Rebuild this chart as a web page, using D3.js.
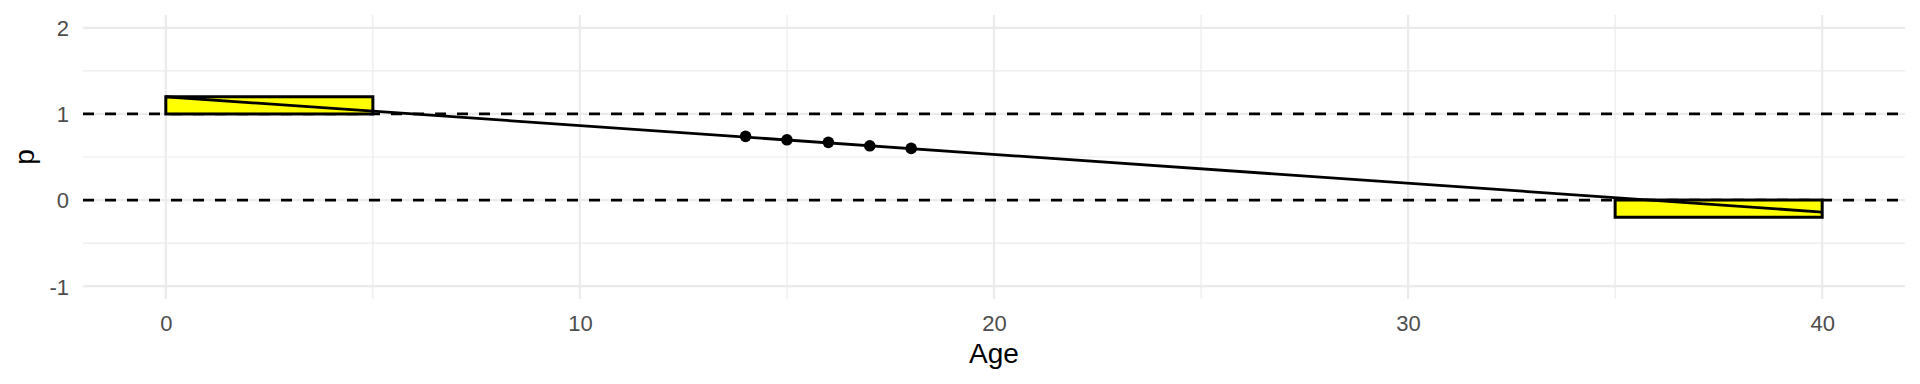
<!DOCTYPE html>
<html>
<head>
<meta charset="utf-8">
<script src="https://cdn.jsdelivr.net/npm/d3@7"></script>
<style>
html,body{margin:0;padding:0;background:#fff;}
svg{display:block;font-family:"Liberation Sans",Arial,sans-serif;}
</style>
</head>
<body>
<svg id="chart" width="1920" height="384"></svg>
<script>
// ---- data ----
const xLimits = [0, 40];
const yLimits = [-1, 2];
const xMajorTicks = [0, 10, 20, 30, 40];
const xMinorTicks = [5, 15, 25, 35];
const yMajorTicks = [-1, 0, 1, 2];
const yMinorTicks = [-0.5, 0.5, 1.5];
const refLines = [1, 0];
const rectX0 = [0, 35];
const rectX1 = [5, 40];
const rectY0 = [1, -0.2];
const rectY1 = [1.2, 0];
const lineX = [0, 40];
const lineY = [1.2, -0.14];
const pointAge = [14, 15, 16, 17, 18];
const pointP = [0.74, 0.70, 0.67, 0.63, 0.60];
const xTitle = "Age";
const yTitle = "p";

// ---- layout ----
const W = 1920, H = 384;
const m = {left: 83, right: 15, top: 15, bottom: 85};
const svg = d3.select("#chart");

const xs = (xLimits[1] - xLimits[0]) * 0.05;
const ys = (yLimits[1] - yLimits[0]) * 0.05;
const x = d3.scaleLinear().domain([xLimits[0] - xs, xLimits[1] + xs]).range([m.left, W - m.right]);
const y = d3.scaleLinear().domain([yLimits[0] - ys, yLimits[1] + ys]).range([H - m.bottom, m.top]);

const grid = svg.append("g");
// minor grid
grid.selectAll(".vminor").data(xMinorTicks).join("line")
  .attr("x1", d => x(d)).attr("x2", d => x(d))
  .attr("y1", m.top).attr("y2", H - m.bottom)
  .attr("stroke", "#ebebeb").attr("stroke-width", 1.2);
grid.selectAll(".hminor").data(yMinorTicks).join("line")
  .attr("y1", d => y(d)).attr("y2", d => y(d))
  .attr("x1", m.left).attr("x2", W - m.right)
  .attr("stroke", "#ebebeb").attr("stroke-width", 1.2);
// major grid
grid.selectAll(".vmajor").data(xMajorTicks).join("line")
  .attr("x1", d => x(d)).attr("x2", d => x(d))
  .attr("y1", m.top).attr("y2", H - m.bottom)
  .attr("stroke", "#ebebeb").attr("stroke-width", 2.2);
grid.selectAll(".hmajor").data(yMajorTicks).join("line")
  .attr("y1", d => y(d)).attr("y2", d => y(d))
  .attr("x1", m.left).attr("x2", W - m.right)
  .attr("stroke", "#ebebeb").attr("stroke-width", 2.2);

// reference dashed lines
svg.append("g").selectAll("line").data(refLines).join("line")
  .attr("x1", m.left).attr("x2", W - m.right)
  .attr("y1", d => y(d)).attr("y2", d => y(d))
  .attr("stroke", "#000").attr("stroke-width", 2.8)
  .attr("stroke-dasharray", "11,11");

// rectangles
svg.append("g").selectAll("rect").data(rectX0.map((d, i) => i)).join("rect")
  .attr("x", i => x(rectX0[i]))
  .attr("y", i => y(rectY1[i]))
  .attr("width", i => x(rectX1[i]) - x(rectX0[i]))
  .attr("height", i => y(rectY0[i]) - y(rectY1[i]))
  .attr("fill", "#ffff00").attr("stroke", "#000").attr("stroke-width", 3);

// line
const lineData = lineX.map((d, i) => [d, lineY[i]]);
svg.append("path").datum(lineData)
  .attr("d", d3.line().x(d => x(d[0])).y(d => y(d[1])))
  .attr("fill", "none").attr("stroke", "#000").attr("stroke-width", 2.8);

// points
svg.append("g").selectAll("circle").data(pointAge.map((d, i) => i)).join("circle")
  .attr("cx", i => x(pointAge[i])).attr("cy", i => y(pointP[i]))
  .attr("r", 5.8).attr("fill", "#000");

// axes (text only)
const fmt = d => String(d);
const xAxis = d3.axisBottom(x).tickValues(xMajorTicks).tickFormat(fmt).tickSize(0).tickPadding(0);
const gx = svg.append("g").attr("transform", `translate(0,${H - m.bottom})`).call(xAxis);
gx.select(".domain").remove();
gx.selectAll("text").attr("font-size", 22).attr("fill", "#4d4d4d")
  .attr("font-family", "Liberation Sans, Arial, sans-serif").attr("dy", null).attr("y", 32);

const yAxis = d3.axisLeft(y).tickValues(yMajorTicks).tickFormat(fmt).tickSize(0).tickPadding(0);
const gy = svg.append("g").attr("transform", `translate(${m.left},0)`).call(yAxis);
gy.select(".domain").remove();
gy.selectAll("text").attr("font-size", 22).attr("fill", "#4d4d4d")
  .attr("font-family", "Liberation Sans, Arial, sans-serif").attr("x", -14).attr("dy", "0.36em");

// titles
svg.append("text").attr("x", (m.left + W - m.right) / 2).attr("y", 363)
  .attr("text-anchor", "middle").attr("font-size", 28).attr("fill", "#000").text(xTitle);
svg.append("text").attr("transform", `translate(34,${(m.top + H - m.bottom) / 2}) rotate(-90)`)
  .attr("text-anchor", "middle").attr("font-size", 28).attr("fill", "#000").text(yTitle);
</script>
</body>
</html>
